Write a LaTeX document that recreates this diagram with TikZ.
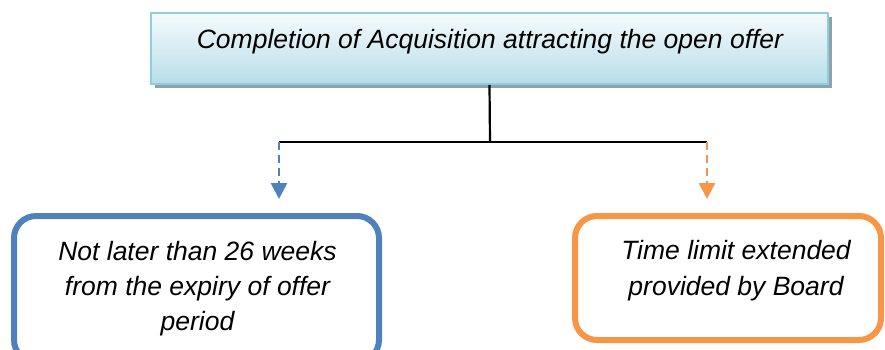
\documentclass[tikz,border=0pt]{standalone}
\usepackage{fontspec}
\setmainfont{Liberation Sans}
\usetikzlibrary{arrows.meta,shadows}
\definecolor{boxblue}{HTML}{4F81BD}
\definecolor{boxorange}{HTML}{F79646}
\definecolor{aquaborder}{HTML}{93CDDD}
\definecolor{aquatop}{HTML}{F6FBFD}
\definecolor{aquabottom}{HTML}{B7DDE8}
\definecolor{shadowgray}{HTML}{89A4AC}
\tikzset{
  headbox/.style={draw=aquaborder, line width=2pt, top color=aquatop, bottom color=aquabottom,
    minimum width=677pt, minimum height=71pt, inner sep=0pt,
    drop shadow={shadow xshift=4pt, shadow yshift=-4pt, fill=shadowgray, opacity=1}},
  roundbox/.style={line width=6pt, rounded corners=22pt, fill=white, inner sep=0pt},
  boxtext/.style={align=center, inner sep=0pt, font=\fontsize{26.5}{35}\selectfont\itshape},
  link/.style={line width=2.2pt, black},
  dashlink/.style={line width=2.6pt, dash pattern=on 8pt off 5pt, shorten >=14pt,
    -{Triangle[width=16pt,length=16pt]}}
}
\begin{document}
\begin{tikzpicture}[x=1pt,y=-1pt]
\useasboundingbox (0,0) rectangle (885,350);
% top box
\node[headbox] (top) at (489.5,48.5) {};
\node[boxtext] (toptext) at (490,41.5) {Completion of Acquisition attracting the open offer};
% bottom boxes
\node[roundbox, draw=boxblue, minimum width=365pt, minimum height=146pt] (blue) at (196.5,289) {};
\node[boxtext] (bluetext) at (197.5,289) {Not later than 26 weeks\\from the expiry of offer\\period};
\node[roundbox, draw=boxorange, minimum width=306pt, minimum height=124pt] (orange) at (728,278) {};
\node[boxtext, font=\fontsize{26.5}{36}\selectfont\itshape] (orangetext) at (736,270.5) {Time limit extended\\provided by Board};
% connectors
\coordinate (jM) at (490,142);
\coordinate (jL) at (279,142);
\coordinate (jR) at (707,142);
\draw[link] (top.south) -- (jM);
\draw[link] (jL) -- (jR);
\draw[dashlink, boxblue] (jL) -- (jL |- blue.north);
\draw[dashlink, boxorange] (jR) -- (jR |- orange.north);
\end{tikzpicture}
\end{document}
